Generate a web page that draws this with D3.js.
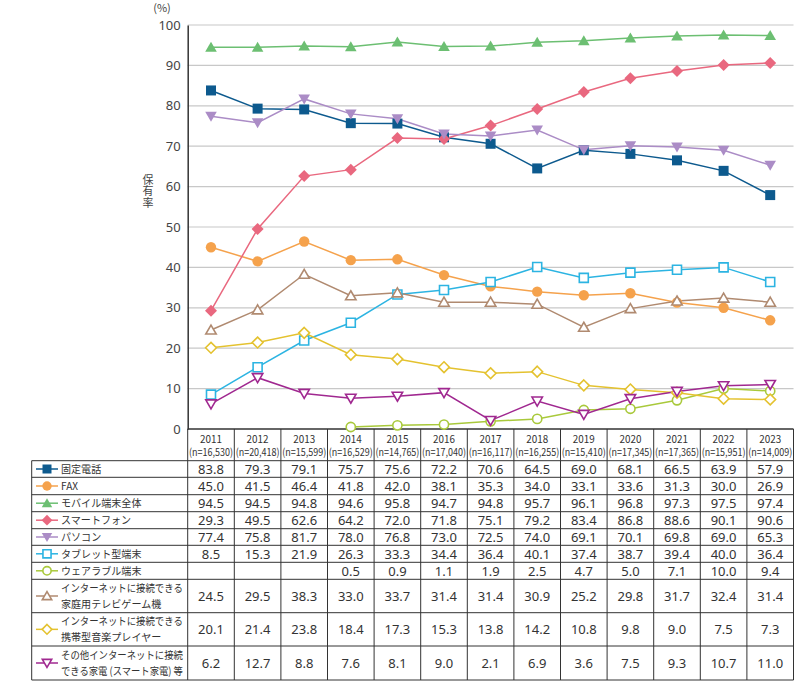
<!DOCTYPE html>
<html><head><meta charset="utf-8">
<script src="https://cdn.jsdelivr.net/npm/d3@7"></script>
<style>
html,body{margin:0;padding:0;background:#fff;}
text{font-family:"Noto Sans CJK JP","Noto Sans",sans-serif;}
</style></head>
<body><svg id="c" width="812" height="686"></svg>
<script>
const years = ["2011","2012","2013","2014","2015","2016","2017","2018","2019","2020","2021","2022","2023"];
const sampleSizes = ["16,530","20,418","15,599","16,529","14,765","17,040","16,117","16,255","15,410","17,345","17,365","15,951","14,009"];
const yTicks = [0,10,20,30,40,50,60,70,80,90,100];

const fixedPhone = [83.8,79.3,79.1,75.7,75.6,72.2,70.6,64.5,69.0,68.1,66.5,63.9,57.9];
const fax = [45.0,41.5,46.4,41.8,42.0,38.1,35.3,34.0,33.1,33.6,31.3,30.0,26.9];
const mobileAll = [94.5,94.5,94.8,94.6,95.8,94.7,94.8,95.7,96.1,96.8,97.3,97.5,97.4];
const smartphone = [29.3,49.5,62.6,64.2,72.0,71.8,75.1,79.2,83.4,86.8,88.6,90.1,90.6];
const pc = [77.4,75.8,81.7,78.0,76.8,73.0,72.5,74.0,69.1,70.1,69.8,69.0,65.3];
const tablet = [8.5,15.3,21.9,26.3,33.3,34.4,36.4,40.1,37.4,38.7,39.4,40.0,36.4];
const wearable = [null,null,null,0.5,0.9,1.1,1.9,2.5,4.7,5.0,7.1,10.0,9.4];
const gameConsole = [24.5,29.5,38.3,33.0,33.7,31.4,31.4,30.9,25.2,29.8,31.7,32.4,31.4];
const musicPlayer = [20.1,21.4,23.8,18.4,17.3,15.3,13.8,14.2,10.8,9.8,9.0,7.5,7.3];
const smartAppliance = [6.2,12.7,8.8,7.6,8.1,9.0,2.1,6.9,3.6,7.5,9.3,10.7,11.0];

const seriesNames = [["固定電話"],["FAX"],["モバイル端末全体"],["スマートフォン"],["パソコン"],["タブレット型端末"],["ウェアラブル端末"],["インターネットに接続できる","家庭用テレビゲーム機"],["インターネットに接続できる","携帯型音楽プレイヤー"],["その他インターネットに接続","できる家電 (スマート家電) 等"]];
const seriesValues = [fixedPhone,fax,mobileAll,smartphone,pc,tablet,wearable,gameConsole,musicPlayer,smartAppliance];

const styles = [
 {c:"#0d5a8e", m:"square", fill:true},
 {c:"#f5a24c", m:"circle", fill:true},
 {c:"#6cbf72", m:"triUp", fill:true},
 {c:"#e9687f", m:"diamond", fill:true},
 {c:"#ab8cc6", m:"triDown", fill:true},
 {c:"#2cb4e2", m:"square", fill:false},
 {c:"#a9c93b", m:"circle", fill:false},
 {c:"#b08a70", m:"triUp", fill:false},
 {c:"#e4c22f", m:"diamond", fill:false},
 {c:"#a02890", m:"triDown", fill:false}
];
const rowHeights = [16.6,17.4,17,17,16.6,17,17,33.4,33.3,34];

(function(){
const svg = d3.select("#c");
const pLeft = 187.7, pRight = 793.5, pTop = 25, pBottom = 429;
const x = d3.scaleBand().domain(years).range([pLeft,pRight]);
const y = d3.scaleLinear().domain([0,100]).range([pBottom,pTop]);

svg.append("g").selectAll("line").data(yTicks.filter(t=>t>0)).join("line")
 .attr("x1",pLeft).attr("x2",pRight).attr("y1",d=>y(d)).attr("y2",d=>y(d))
 .attr("stroke","#c8c8c8").attr("stroke-width",1.2);

const yAxis = svg.append("g").attr("transform",`translate(${pLeft},0)`)
 .call(d3.axisLeft(y).tickValues(yTicks).tickSize(0).tickPadding(7));
yAxis.select(".domain").attr("stroke","#333").attr("stroke-width",1.5);
yAxis.selectAll("text").attr("font-size",13).attr("fill","#444").style("font-family","'Noto Sans','Noto Sans CJK JP',sans-serif");
svg.append("text").attr("x",162).attr("y",11.5).attr("text-anchor","middle").attr("font-size",11).attr("fill","#444").text("(%)");
svg.append("text").attr("x",148).attr("y",174).attr("font-size",11).attr("fill","#444")
  .style("writing-mode","vertical-rl").style("letter-spacing","0.5px").text("保有率");

svg.append("line").attr("x1",pLeft).attr("x2",pRight).attr("y1",pBottom).attr("y2",pBottom).attr("stroke","#333").attr("stroke-width",1.5);

function symbolPath(m, s){
  switch(m){
    case "square": return `M${-s/2},${-s/2}h${s}v${s}h${-s}Z`;
    case "diamond": return `M0,${-s*0.6}L${s*0.6},0L0,${s*0.6}L${-s*0.6},0Z`;
    case "triUp": return `M0,${-s*0.55}L${s*0.58},${s*0.45}L${-s*0.58},${s*0.45}Z`;
    case "triDown": return `M0,${s*0.55}L${s*0.58},${-s*0.45}L${-s*0.58},${-s*0.45}Z`;
  }
}
function drawMarker(g, st, cx, cy, s){
  const fill = st.fill ? st.c : "#fff";
  const sw = st.fill ? 0 : 1.6;
  if(st.m==="circle"){
    g.append("circle").attr("cx",cx).attr("cy",cy).attr("r",st.fill? s*0.52 : s*0.46).attr("fill",fill).attr("stroke",st.c).attr("stroke-width",sw);
  } else {
    g.append("path").attr("transform",`translate(${cx},${cy})`).attr("d",symbolPath(st.m, st.fill? s : s*0.9)).attr("fill",fill).attr("stroke",st.c).attr("stroke-width",sw);
  }
}
function squeezed(g, tx, ty, txt, size, maxW, anchor){
  const t = g.append("text").attr("font-size",size).attr("fill","#333").attr("text-anchor",anchor||"start").text(txt);
  const w = t.node().getComputedTextLength();
  const s = Math.min(1, maxW/w);
  t.attr("transform",`translate(${tx},${ty}) scale(${s},1)`);
  return t;
}

const line = d3.line().defined(d=>d.v!==null).x(d=>x(d.yr)+x.bandwidth()/2).y(d=>y(d.v));
const plotG = svg.append("g");
seriesValues.forEach((vals,i)=>{
  const data = vals.map((v,j)=>({yr:years[j], v}));
  plotG.append("path").datum(data).attr("d",line).attr("fill","none").attr("stroke",styles[i].c).attr("stroke-width",1.5);
});
seriesValues.forEach((vals,i)=>{
  const g = plotG.append("g");
  vals.forEach((v,j)=>{ if(v!==null) drawMarker(g, styles[i], x(years[j])+x.bandwidth()/2, y(v), 10); });
});

const hdr = svg.append("g");
const hdrTop = pBottom, hdrBot = 460.7;
years.forEach((yr,j)=>{
  const cx = x(yr)+x.bandwidth()/2;
  squeezed(hdr, cx, 442.5, yr, 11, 22, "middle");
  squeezed(hdr, cx, 456, `(n=${sampleSizes[j]})`, 10.5, 44, "middle");
});
const bounds = years.map(yr=>x(yr)).concat([pRight]);
bounds.forEach(bx=>hdr.append("line").attr("x1",bx).attr("x2",bx).attr("y1",hdrTop).attr("y2",hdrBot).attr("stroke","#333").attr("stroke-width",1));

const tbl = svg.append("g");
const tLeft = 31.7;
let rowY = hdrBot;
const rowTops = [];
rowHeights.forEach(h=>{ rowTops.push(rowY); rowY += h; });
const tBot = rowY;
rowTops.concat([tBot]).forEach(ry=>tbl.append("line").attr("x1",tLeft).attr("x2",pRight).attr("y1",ry).attr("y2",ry).attr("stroke","#333").attr("stroke-width",1));
[tLeft].concat(bounds).forEach(bx=>tbl.append("line").attr("x1",bx).attr("x2",bx).attr("y1",hdrBot).attr("y2",tBot).attr("stroke","#333").attr("stroke-width",1));

seriesValues.forEach((vals,i)=>{
  const top0 = rowTops[i], h = rowHeights[i], cy = top0 + h/2;
  const st = styles[i];
  tbl.append("line").attr("x1",36).attr("x2",58).attr("y1",cy).attr("y2",cy).attr("stroke",st.c).attr("stroke-width",1.5);
  drawMarker(tbl, st, 47, cy, 9);
  const lines = seriesNames[i];
  const n = lines.length;
  lines.forEach((t,k)=>{
    const tx = tbl.append("text").attr("font-size",10.6).attr("fill","#333").text(t);
    const w = tx.node().getComputedTextLength();
    const s = Math.min(0.95, 122/w);
    const ly = cy + 3.8 + (k - (n-1)/2)*15.4;
    tx.attr("transform",`translate(61,${ly}) scale(${s},1)`);
  });
  vals.forEach((v,j)=>{
    if(v===null) return;
    tbl.append("text").attr("x",x(years[j])+x.bandwidth()/2).attr("y",cy+5).attr("text-anchor","middle")
      .attr("font-size",13).attr("fill","#333").style("font-family","'Noto Sans',sans-serif").text(v.toFixed(1));
  });
});
})();
</script></body></html>
